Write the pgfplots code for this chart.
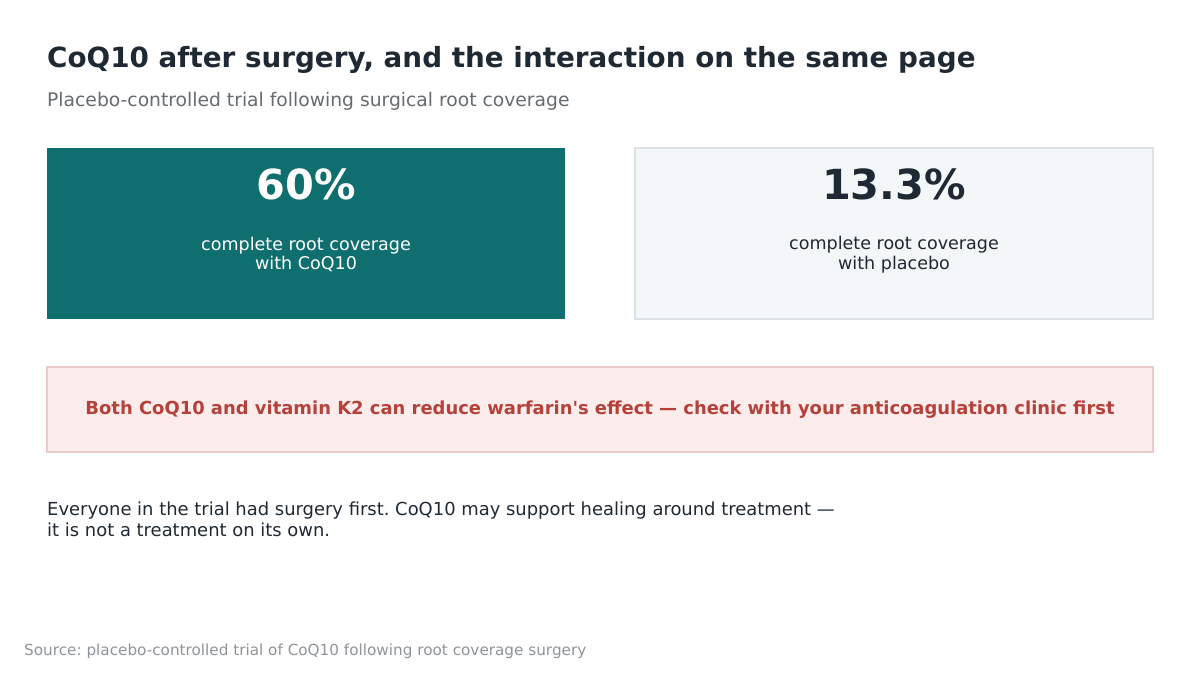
\documentclass[border=0pt]{standalone}
\usepackage{pgfplots}
\pgfplotsset{compat=1.18}
\usepackage{fontspec}
\setmainfont{DejaVu Sans}
\frenchspacing

\definecolor{ink}{HTML}{1F2933}
\definecolor{subgray}{HTML}{666B70}
\definecolor{srcgray}{HTML}{8F9499}
\definecolor{teal}{HTML}{0F6E6E}
\definecolor{cardbg}{HTML}{F3F7F8}
\definecolor{cardline}{HTML}{DCE1E5}
\definecolor{warnbg}{HTML}{FCECEB}
\definecolor{warnline}{HTML}{EBCACA}
\definecolor{warntext}{HTML}{B5413B}

\newcommand{\fs}[2]{\fontsize{#1}{#2}\selectfont}

\begin{document}
\begin{tikzpicture}
  % canvas in pixel units, y downward
  \begin{axis}[
      width=1200bp, height=675bp, scale only axis,
      xmin=0, xmax=1200, ymin=0, ymax=675,
      y dir=reverse,
      axis lines=none, clip=false,
    ]
    % keep the whole canvas in the bounding box
    \path (axis cs:0,0) rectangle (axis cs:1200,675);

    % title block
    \node[anchor=base west, text=ink, inner sep=0pt]
      at (axis cs:47,68) {\fs{27.9}{33}\bfseries CoQ10 after surgery, and the interaction on the same page};
    \node[anchor=base west, text=subgray, inner sep=0pt]
      at (axis cs:47,106) {\fs{18.8}{22}Placebo-controlled trial following surgical root coverage};

    % result cards
    \fill[teal] (axis cs:47,148) rectangle (axis cs:565,319);
    \filldraw[fill=cardbg, draw=cardline, line width=1.2bp]
      (axis cs:635,148) rectangle (axis cs:1153,319);

    \node[text=white, inner sep=0pt] at (axis cs:306,184) {\fs{41.6}{48}\bfseries 60\%};
    \node[text=white, inner sep=0pt, align=center, font=\fs{17.6}{20}] at (axis cs:306,254.5)
      {complete root coverage\\with CoQ10};

    \node[text=ink, inner sep=0pt] at (axis cs:894,184) {\fs{41.6}{48}\bfseries 13.3\%};
    \node[text=ink, inner sep=0pt, align=center, font=\fs{17.6}{20}] at (axis cs:894,254.5)
      {complete root coverage\\with placebo};

    % warfarin warning
    \filldraw[fill=warnbg, draw=warnline, line width=1.2bp]
      (axis cs:47,367) rectangle (axis cs:1153,452);
    \node[text=warntext, inner sep=0pt] at (axis cs:600,409.5)
      {\fs{18}{21}\bfseries Both CoQ10 and vitamin K2 can reduce warfarin\textquotesingle s effect --- check with your anticoagulation clinic first};

    % note
    \node[anchor=base west, text=ink, inner sep=0pt]
      at (axis cs:47,515) {\fs{18}{21}Everyone in the trial had surgery first. CoQ10 may support healing around treatment ---};
    \node[anchor=base west, text=ink, inner sep=0pt]
      at (axis cs:47,536) {\fs{18}{21}it is not a treatment on its own.};

    % source
    \node[anchor=base west, text=srcgray, inner sep=0pt]
      at (axis cs:24,655) {\fs{15.3}{18}Source: placebo-controlled trial of CoQ10 following root coverage surgery};
  \end{axis}
\end{tikzpicture}
\end{document}
